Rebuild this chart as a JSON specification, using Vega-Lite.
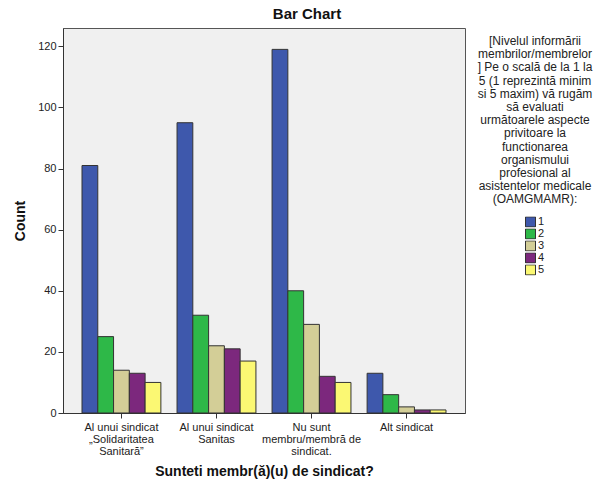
{
  "$schema": "https://vega.github.io/schema/vega-lite/v6.json",
  "autosize": "none",
  "width": 402,
  "height": 385,
  "padding": {"left": 63, "top": 28, "right": 142, "bottom": 73},
  "background": "white",
  "title": {"text": "Bar Chart", "font": "Liberation Sans", "fontSize": 15, "fontWeight": "bold", "color": "#111", "anchor": "middle", "dx": 43, "offset": 6},
  "data": {"values": [
    {"grup": "Al unui sindicat|„Solidaritatea|Sanitară”", "nivel": "1", "count": 81},
    {"grup": "Al unui sindicat|„Solidaritatea|Sanitară”", "nivel": "2", "count": 25},
    {"grup": "Al unui sindicat|„Solidaritatea|Sanitară”", "nivel": "3", "count": 14},
    {"grup": "Al unui sindicat|„Solidaritatea|Sanitară”", "nivel": "4", "count": 13},
    {"grup": "Al unui sindicat|„Solidaritatea|Sanitară”", "nivel": "5", "count": 10},
    {"grup": "Al unui sindicat|Sanitas", "nivel": "1", "count": 95},
    {"grup": "Al unui sindicat|Sanitas", "nivel": "2", "count": 32},
    {"grup": "Al unui sindicat|Sanitas", "nivel": "3", "count": 22},
    {"grup": "Al unui sindicat|Sanitas", "nivel": "4", "count": 21},
    {"grup": "Al unui sindicat|Sanitas", "nivel": "5", "count": 17},
    {"grup": "Nu sunt|membru/membră de|sindicat.", "nivel": "1", "count": 119},
    {"grup": "Nu sunt|membru/membră de|sindicat.", "nivel": "2", "count": 40},
    {"grup": "Nu sunt|membru/membră de|sindicat.", "nivel": "3", "count": 29},
    {"grup": "Nu sunt|membru/membră de|sindicat.", "nivel": "4", "count": 12},
    {"grup": "Nu sunt|membru/membră de|sindicat.", "nivel": "5", "count": 10},
    {"grup": "Alt sindicat", "nivel": "1", "count": 13},
    {"grup": "Alt sindicat", "nivel": "2", "count": 6},
    {"grup": "Alt sindicat", "nivel": "3", "count": 2},
    {"grup": "Alt sindicat", "nivel": "4", "count": 1},
    {"grup": "Alt sindicat", "nivel": "5", "count": 1}
  ]},
  "mark": {"type": "bar", "stroke": "#333", "strokeWidth": 1},
  "encoding": {
    "x": {
      "field": "grup", "type": "nominal", "sort": null,
      "scale": {"paddingInner": 0.17, "paddingOuter": 0.2},
      "axis": {
        "title": "Sunteti membr(ă)(u) de sindicat?",
        "titleFont": "Liberation Sans", "titleFontSize": 14, "titleFontWeight": "bold", "titleColor": "#111", "titlePadding": 8,
        "labelExpr": "split(datum.label, '|')",
        "labelFont": "Liberation Sans", "labelFontSize": 11, "labelColor": "#222", "labelAngle": 0, "labelLineHeight": 12, "labelPadding": 3,
        "tickSize": 5, "tickColor": "#333", "domainColor": "#333"
      }
    },
    "xOffset": {"field": "nivel", "type": "nominal", "scale": {"paddingInner": 0, "paddingOuter": 0}},
    "y": {
      "field": "count", "type": "quantitative",
      "scale": {"domain": [0, 126], "nice": false},
      "axis": {
        "title": "Count", "values": [0, 20, 40, 60, 80, 100, 120], "grid": false,
        "titleFont": "Liberation Sans", "titleFontSize": 14, "titleFontWeight": "bold", "titleColor": "#111", "titlePadding": 10,
        "labelFont": "Liberation Sans", "labelFontSize": 11, "labelColor": "#222",
        "tickSize": 5, "tickColor": "#333", "domainColor": "#333"
      }
    },
    "color": {
      "field": "nivel", "type": "nominal",
      "scale": {"domain": ["1", "2", "3", "4", "5"], "range": ["#3E58AC", "#2EB848", "#D3CE97", "#7C287D", "#FBF873"]},
      "legend": {
        "title": ["[Nivelul informării", "membrilor/membrelor", "] Pe o scală de la 1 la", "5 (1 reprezintă minim", "si 5 maxim) vă rugăm", "să evaluati", "următoarele aspecte", "privitoare la", "functionarea", "organismului", "profesional al", "asistentelor medicale", "(OAMGMAMR):"],
        "orient": "none", "legendX": 415, "legendY": 8,
        "titleFont": "Liberation Sans", "titleFontSize": 12, "titleFontWeight": "normal", "titleColor": "#222",
        "titleAlign": "center", "titleAnchor": "middle", "titleLineHeight": 13.2, "titlePadding": 10, "titleLimit": 300,
        "symbolType": "square", "symbolSize": 100, "symbolStrokeColor": "#333", "symbolStrokeWidth": 1, "symbolOpacity": 1,
        "labelFont": "Liberation Sans", "labelFontSize": 11, "labelColor": "#222", "labelOffset": 2,
        "rowPadding": 0, "clipHeight": 11
      }
    }
  },
  "config": {
    "view": {"fill": "#F0F0F0", "stroke": "#555", "strokeWidth": 1}
  }
}
